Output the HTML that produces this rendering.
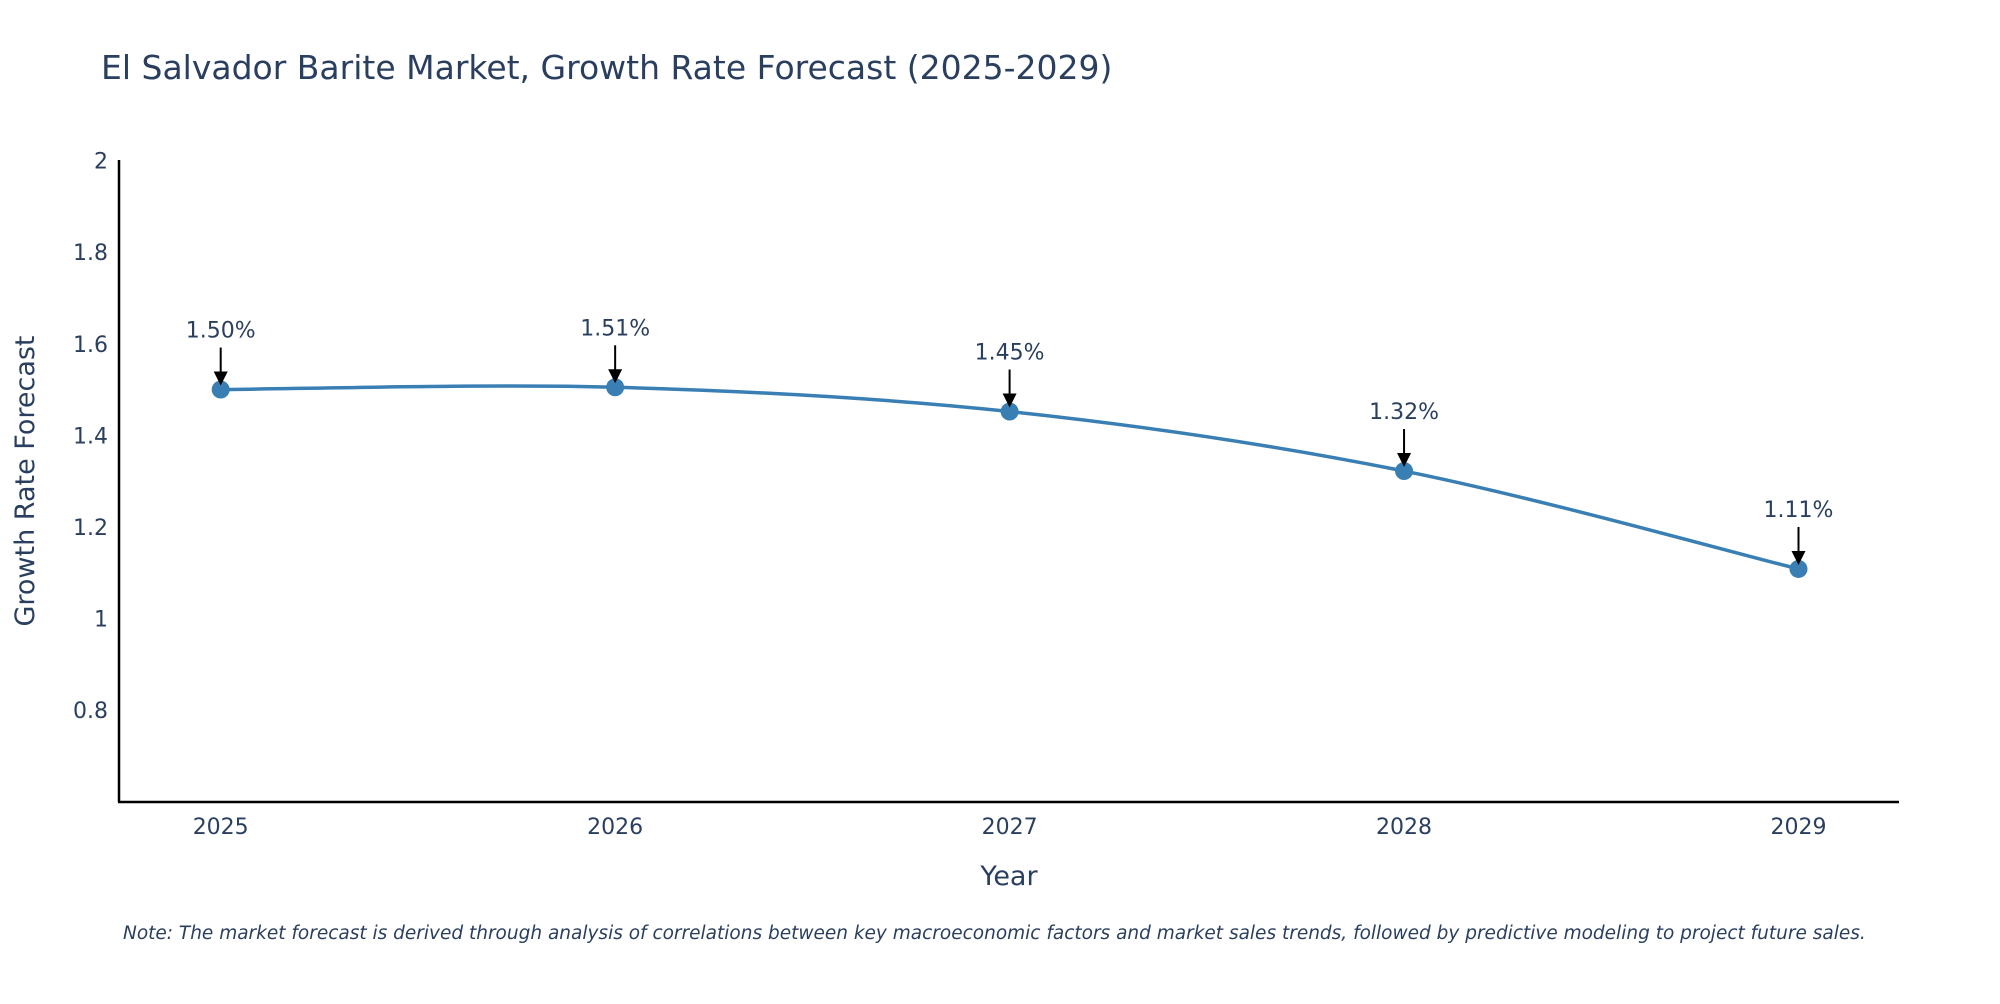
<!DOCTYPE html>
<html><head><meta charset="utf-8"><style>
body{margin:0;background:#fff;font-family:"DejaVu Sans","Liberation Sans",sans-serif;}
svg text{font-family:"DejaVu Sans","Liberation Sans",sans-serif;fill:#2a3f5f;}
</style></head><body>
<svg id="chart" width="2000" height="1000" viewBox="0 0 2000 1000" xmlns="http://www.w3.org/2000/svg">
<text x="101" y="79" font-size="33">El Salvador Barite Market, Growth Rate Forecast (2025-2029)</text>
<g id="yticks"></g>
<g id="xticks"></g>
<line x1="119" y1="160" x2="119" y2="802" stroke="#000" stroke-width="2.5"/>
<line x1="118" y1="802" x2="1899" y2="802" stroke="#000" stroke-width="2.5"/>
<text transform="translate(34,481) rotate(-90)" text-anchor="middle" font-size="27">Growth Rate Forecast</text>
<text x="1009" y="885" text-anchor="middle" font-size="27">Year</text>
<g id="series"></g>
<text x="123" y="939" font-size="18.5" font-style="italic">Note: The market forecast is derived through analysis of correlations between key macroeconomic factors and market sales trends, followed by predictive modeling to project future sales.</text>
</svg>
<script>
const categories = ["2025","2026","2027","2028","2029"];
const values = [1.50, 1.505, 1.452, 1.322, 1.108];
const valueLabels = ["1.50%","1.51%","1.45%","1.32%","1.11%"];
const yTickValues = [0.8,1,1.2,1.4,1.6,1.8,2];
const yTickLabels = ["0.8","1","1.2","1.4","1.6","1.8","2"];

const NS="http://www.w3.org/2000/svg";
const yMin=0.6,yMax=2,yTop=160.7,yBottom=801.5;
const xLeft=220.7,xRight=1798.5;
function xs(i){return xLeft+(xRight-xLeft)*i/(categories.length-1);}
function ys(v){return yBottom-(v-yMin)/(yMax-yMin)*(yBottom-yTop);}
function mk(tag,attrs,parent){const e=document.createElementNS(NS,tag);for(const k in attrs)e.setAttribute(k,attrs[k]);parent.appendChild(e);return e;}

const yg=document.getElementById('yticks');
yTickValues.forEach((v,i)=>{
  const t=mk('text',{x:108,y:ys(v)+8,'text-anchor':'end','font-size':22},yg);
  
  
  t.textContent=yTickLabels[i];
});
const xg=document.getElementById('xticks');
categories.forEach((c,i)=>{
  const t=mk('text',{x:xs(i),y:834,'text-anchor':'middle','font-size':22},xg);
  
  
  t.textContent=c;
});

const sg=document.getElementById('series');
const pts=values.map((v,i)=>[xs(i),ys(v)]);
let d="M"+pts[0][0]+","+pts[0][1];
for(let i=0;i<pts.length-1;i++){
  const p0=pts[i-1]||pts[i],p1=pts[i],p2=pts[i+1],p3=pts[i+2]||pts[i+1];
  const c1=[p1[0]+(p2[0]-p0[0])/6,p1[1]+(p2[1]-p0[1])/6];
  const c2=[p2[0]-(p3[0]-p1[0])/6,p2[1]-(p3[1]-p1[1])/6];
  d+=" C"+c1+" "+c2+" "+p2;
}
const line=mk('path',{d:d,fill:'none',stroke:'#3a7fb4','stroke-width':3.5},sg);


pts.forEach((p,i)=>{
  const c=mk('circle',{cx:p[0],cy:p[1],r:9,fill:'#3a7fb4'},sg);
  
  
  const a=mk('line',{x1:p[0],y1:p[1]-42,x2:p[0],y2:p[1]-16,stroke:'#000','stroke-width':2},sg);
  
  
  const h=mk('polygon',{points:`${p[0]-7},${p[1]-18} ${p[0]+7},${p[1]-18} ${p[0]},${p[1]-4}`,fill:'#000'},sg);
  
  
  const t=mk('text',{x:p[0],y:p[1]-52,'text-anchor':'middle','font-size':22},sg);
  
  
  t.textContent=valueLabels[i];
});
</script>
</body></html>
